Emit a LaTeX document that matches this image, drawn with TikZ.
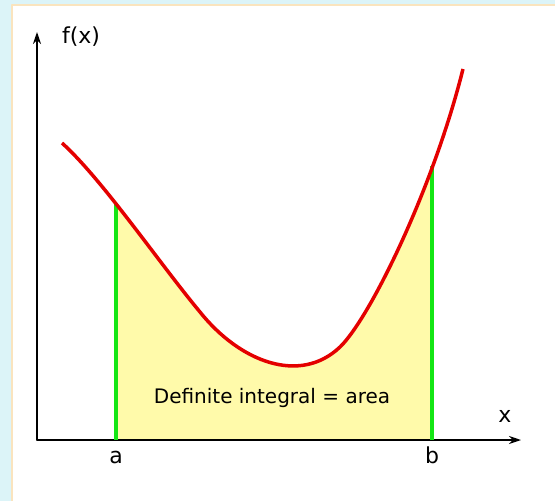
\documentclass[tikz,border=0pt]{standalone}
\usepackage{fontspec}
\setmainfont{DejaVu Sans}
\usetikzlibrary{arrows.meta}
\definecolor{skyblue}{RGB}{220,244,248}
\definecolor{creamline}{RGB}{250,228,190}
\definecolor{areayellow}{RGB}{255,250,170}
\definecolor{curvered}{RGB}{228,0,0}
\definecolor{edgegreen}{RGB}{20,230,20}
\tikzset{
  lbl/.style={font=\fontsize{22}{26}\selectfont,anchor=base,inner sep=0pt},
  axis/.style={line width=1.4pt,->},
  limit/.style={edgegreen,line width=3.5pt,line cap=butt},
}
\newcommand{\fcurve}{(62,143) .. controls (102,179) and (160,264) .. (200,312)
  .. controls (240,362) and (300,385) .. (340,347)
  .. controls (370,318) and (433,189) .. (463,69)}
\begin{document}
\begin{tikzpicture}[x=1pt,y=-1pt,>={Stealth[length=12pt,width=8pt]},line join=round,line cap=round]
\useasboundingbox (0,0) rectangle (555,501);
% background and panel
\fill[skyblue] (0,0) rectangle (555,501);
\draw[creamline,line width=2.5pt,fill=white] (12,5) rectangle (562,512);
% area under the curve
\begin{scope}
  \clip (116,0) rectangle (432,440);
  \fill[areayellow] \fcurve -- (463,440) -- (62,440) -- cycle;
\end{scope}
% axes
\coordinate (O) at (37,440);
\coordinate (ytip) at (37,32);
\coordinate (xtip) at (521,440);
\draw[axis] (O) -- (ytip);
\draw[axis] (O) -- (xtip);
\node[lbl] (fx) at (81,43) {f(x)};
\node[lbl] (xl) at (505,422) {x};
% limits
\coordinate (ta) at (116,204);
\coordinate (ba) at (116,440);
\coordinate (tb) at (432,166);
\coordinate (bb) at (432,440);
\draw[limit] (ba) -- (ta);
\draw[limit] (bb) -- (tb);
\node[lbl] (la) at (116,463) {a};
\node[lbl] (lb) at (432,463) {b};
% the function
\draw[curvered,line width=3.5pt,line cap=butt] \fcurve;
\node[lbl,font=\fontsize{20}{24}\selectfont] (area) at (272,403) {Definite integral = area};
\end{tikzpicture}
\end{document}
